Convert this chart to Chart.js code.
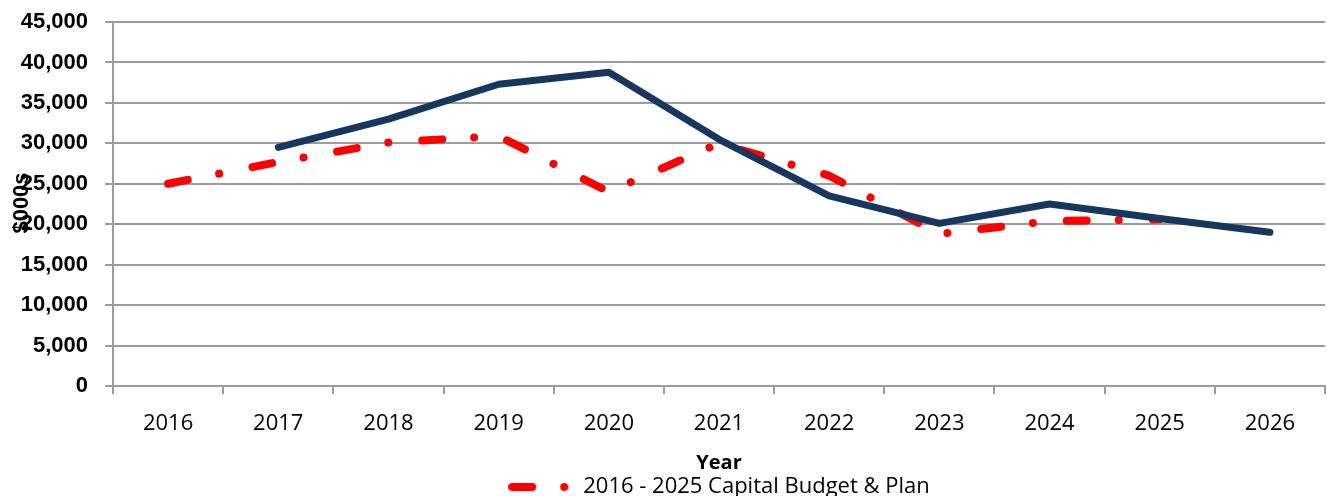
<!DOCTYPE html>
<html>
<head>
<meta charset="utf-8">
<script src="https://cdn.jsdelivr.net/npm/chart.js@4"></script>
<style>
html,body{margin:0;padding:0;background:#fff;}
#wrap{width:1327px;height:496px;position:relative;}
</style>
</head>
<body>
<div id="wrap"><canvas id="c" width="1327" height="496"></canvas></div>
<script>
const categories = ['2016','2017','2018','2019','2020','2021','2022','2023','2024','2025','2026'];
const seriesNew = [null, 29500, 33000, 37300, 38800, 30500, 23500, 20100, 22500, 20700, 19000];
const seriesPlan = [25000, 27700, 30100, 30900, 24000, 30000, 26000, 18800, 20400, 20600, null];
const planLabel = '2016 - 2025 Capital Budget & Plan';
const yTicks = [0,5000,10000,15000,20000,25000,30000,35000,40000,45000];

const RED = '#ff0000';
const NAVY = '#17375e';
const GRID = '#9c9c9c';

// legend symbol: dash then dot
const sym = document.createElement('canvas');
sym.width = 64; sym.height = 12;
(function(){
  const g = sym.getContext('2d');
  g.strokeStyle = RED; g.lineWidth = 8; g.lineCap = 'round';
  g.beginPath(); g.moveTo(4,6); g.lineTo(24,6); g.stroke();
  g.fillStyle = RED; g.beginPath(); g.arc(56,6,4,0,Math.PI*2); g.fill();
})();

const yTitlePlugin = {
  id: 'yTitle',
  afterDraw(chart){
    const ctx = chart.ctx;
    ctx.save();
    ctx.translate(22, 203);
    ctx.rotate(-Math.PI/2);
    ctx.font = 'bold 22px "Liberation Sans", Arial, sans-serif';
    ctx.fillStyle = '#000';
    ctx.textAlign = 'center';
    ctx.textBaseline = 'middle';
    ctx.fillText('$000s', 0, 0);
    ctx.restore();
  }
};

new Chart(document.getElementById('c'), {
  type: 'line',
  data: {
    labels: categories,
    datasets: [
      {
        label: '',
        data: seriesNew,
        borderColor: NAVY,
        backgroundColor: NAVY,
        borderWidth: 7,
        pointRadius: 0,
        tension: 0,
        borderCapStyle: 'round',
        borderJoinStyle: 'round',
        spanGaps: false
      },
      {
        label: planLabel,
        data: seriesPlan,
        borderColor: RED,
        backgroundColor: RED,
        borderWidth: 8,
        borderDash: [20, 32, 0.01, 34],
        borderCapStyle: 'round',
        borderJoinStyle: 'round',
        pointRadius: 0,
        tension: 0,
        pointStyle: sym
      }
    ]
  },
  options: {
    responsive: false,
    animation: false,
    devicePixelRatio: 1,
    layout: { padding: { top: 22, right: 2, bottom: -12, left: 0 } },
    plugins: {
      title: { display: false },
      tooltip: { enabled: false },
      legend: {
        display: true,
        position: 'bottom',
        fullSize: false,
        labels: {
          usePointStyle: true,
          pointStyleWidth: 64,
          padding: 1,
          color: '#000',
          font: { family: '"Open Sans", sans-serif', size: 22 },
          filter: (item) => item.datasetIndex === 1
        }
      }
    },
    scales: {
      x: {
        type: 'category',
        offset: true,
        grid: {
          offset: true,
          drawOnChartArea: false,
          drawTicks: true,
          tickLength: 8,
          color: GRID,
          lineWidth: 2
        },
        border: { display: true, color: GRID, width: 2 },
        ticks: {
          color: '#000',
          padding: 17,
          maxRotation: 0,
          autoSkip: false,
          font: { family: '"Open Sans", sans-serif', size: 22 }
        },
        title: {
          display: true,
          text: 'Year',
          color: '#000',
          padding: { top: 0, bottom: 0 },
          font: { family: '"Open Sans", sans-serif', size: 20, weight: 'bold' }
        },
        afterFit(scale){ scale.height = 89; }
      },
      y: {
        min: 0,
        max: 45000,
        afterBuildTicks(scale){ scale.ticks = yTicks.map(v => ({value: v})); },
        grid: {
          drawOnChartArea: true,
          drawTicks: true,
          tickLength: 8,
          color: GRID,
          lineWidth: 2
        },
        border: { display: true, color: GRID, width: 2 },
        ticks: {
          color: '#000',
          padding: 17,
          font: { family: '"Liberation Sans", Arial, sans-serif', size: 22, weight: 'bold' },
          callback: (v) => Number(v).toLocaleString('en-US')
        },
        afterFit(scale){ scale.width = 113; scale.paddingTop = 0; scale.paddingBottom = 0; }
      }
    }
  },
  plugins: [yTitlePlugin]
});
</script>
</body>
</html>
